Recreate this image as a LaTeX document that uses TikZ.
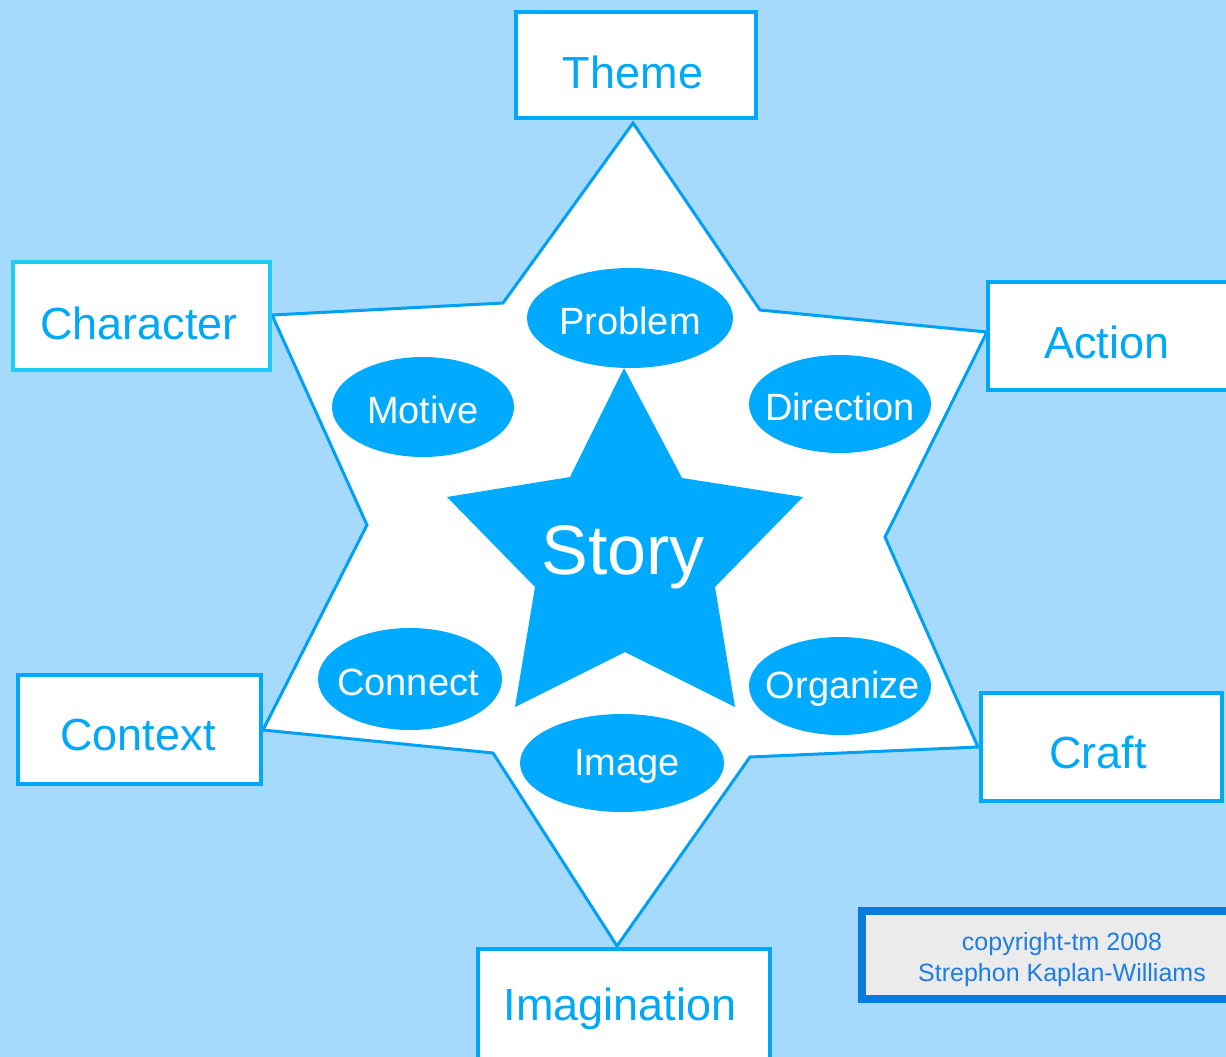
\documentclass[tikz,border=0pt]{standalone}
\usepackage{fontspec}
\setmainfont{Liberation Sans}
\definecolor{bgblue}{RGB}{166,218,252}
\definecolor{boxblue}{RGB}{0,168,248}
\definecolor{charblue}{RGB}{30,204,248}
\definecolor{ellblue}{RGB}{0,170,255}
\definecolor{lineblue}{RGB}{0,160,245}
\definecolor{copyblue}{RGB}{10,122,220}
\definecolor{copytext}{RGB}{30,125,225}
\definecolor{copyfill}{RGB}{235,235,235}
\tikzset{
  labelbox/.style={draw=boxblue, line width=4pt, fill=white, inner sep=0pt},
  labeltext/.style={text=boxblue, inner sep=0pt, font=\fontsize{45}{54}\selectfont},
  ellfill/.style={fill=ellblue},
  elltext/.style={text=white, inner sep=0pt, font=\fontsize{38}{46}\selectfont},
}
\begin{document}
\begin{tikzpicture}[x=1pt,y=-1pt]
\useasboundingbox (0,0) rectangle (1226,1057);
\clip (0,0) rectangle (1226,1057);
\fill[bgblue] (0,0) rectangle (1226,1057);
% hexagram
\draw[lineblue, line width=3pt, fill=white, line join=miter]
  (633,123) -- (760,310) -- (987,332) -- (885,537) -- (978,747) -- (750,757)
  -- (617,946) -- (493,753) -- (263,730) -- (367,525) -- (272,315) -- (503,303) -- cycle;
% central star
\fill[ellblue] (624,368) -- (682,478) -- (803,497) -- (715,587) -- (735,707)
  -- (625,652) -- (515,707) -- (535,587) -- (447,497) -- (570,477) -- cycle;
\node[text=white, inner sep=0pt, font=\fontsize{70}{80}\selectfont] (story) at (623,557) {Story};
% ellipses
\fill[ellfill] (630,318) ellipse [x radius=103, y radius=50];
\node[elltext] (problem) at (630,321) {Problem};
\fill[ellfill] (423,407) ellipse [x radius=91, y radius=50];
\node[elltext] (motive) at (423,410) {Motive};
\fill[ellfill] (840,404) ellipse [x radius=91, y radius=49];
\node[elltext] (direction) at (840,407) {Direction};
\fill[ellfill] (410,679) ellipse [x radius=92, y radius=51];
\node[elltext] (connect) at (408,682) {Connect};
\fill[ellfill] (840,686) ellipse [x radius=91, y radius=49];
\node[elltext] (organize) at (843,689) {Organize};
\fill[ellfill] (622,763) ellipse [x radius=102, y radius=49];
\node[elltext] (image) at (627,766) {Image};
% boxes
\node[labelbox, minimum width=240pt, minimum height=106pt] (themebox) at (636,65) {};
\node[labeltext] (theme) at (633,72) {Theme};
\node[labelbox, draw=charblue, minimum width=257pt, minimum height=108pt] (characterbox) at (141.5,316) {};
\node[labeltext] (character) at (139,323) {Character};
\node[labelbox, minimum width=240pt, minimum height=108pt] (actionbox) at (1108,336) {};
\node[labeltext] (action) at (1107,342) {Action};
\node[labelbox, minimum width=243pt, minimum height=109pt] (contextbox) at (139.5,729.5) {};
\node[labeltext] (context) at (138,735) {Context};
\node[labelbox, minimum width=241pt, minimum height=108pt] (craftbox) at (1101.5,747) {};
\node[labeltext] (craft) at (1098,752) {Craft};
\node[labelbox, minimum width=292pt, minimum height=116pt] (imaginationbox) at (624,1007) {};
\node[labeltext] (imagination) at (620,1009) {Imagination};
% copyright
\node[draw=copyblue, line width=8pt, fill=copyfill, minimum width=382pt, minimum height=88pt,
  inner sep=0pt] (copybox) at (1053,955) {};
\node[text=copytext, font=\fontsize{25}{31}\selectfont, align=center] (copytxt) at (1062,960)
  {copyright-tm 2008\\Strephon Kaplan-Williams};
\end{tikzpicture}
\end{document}
